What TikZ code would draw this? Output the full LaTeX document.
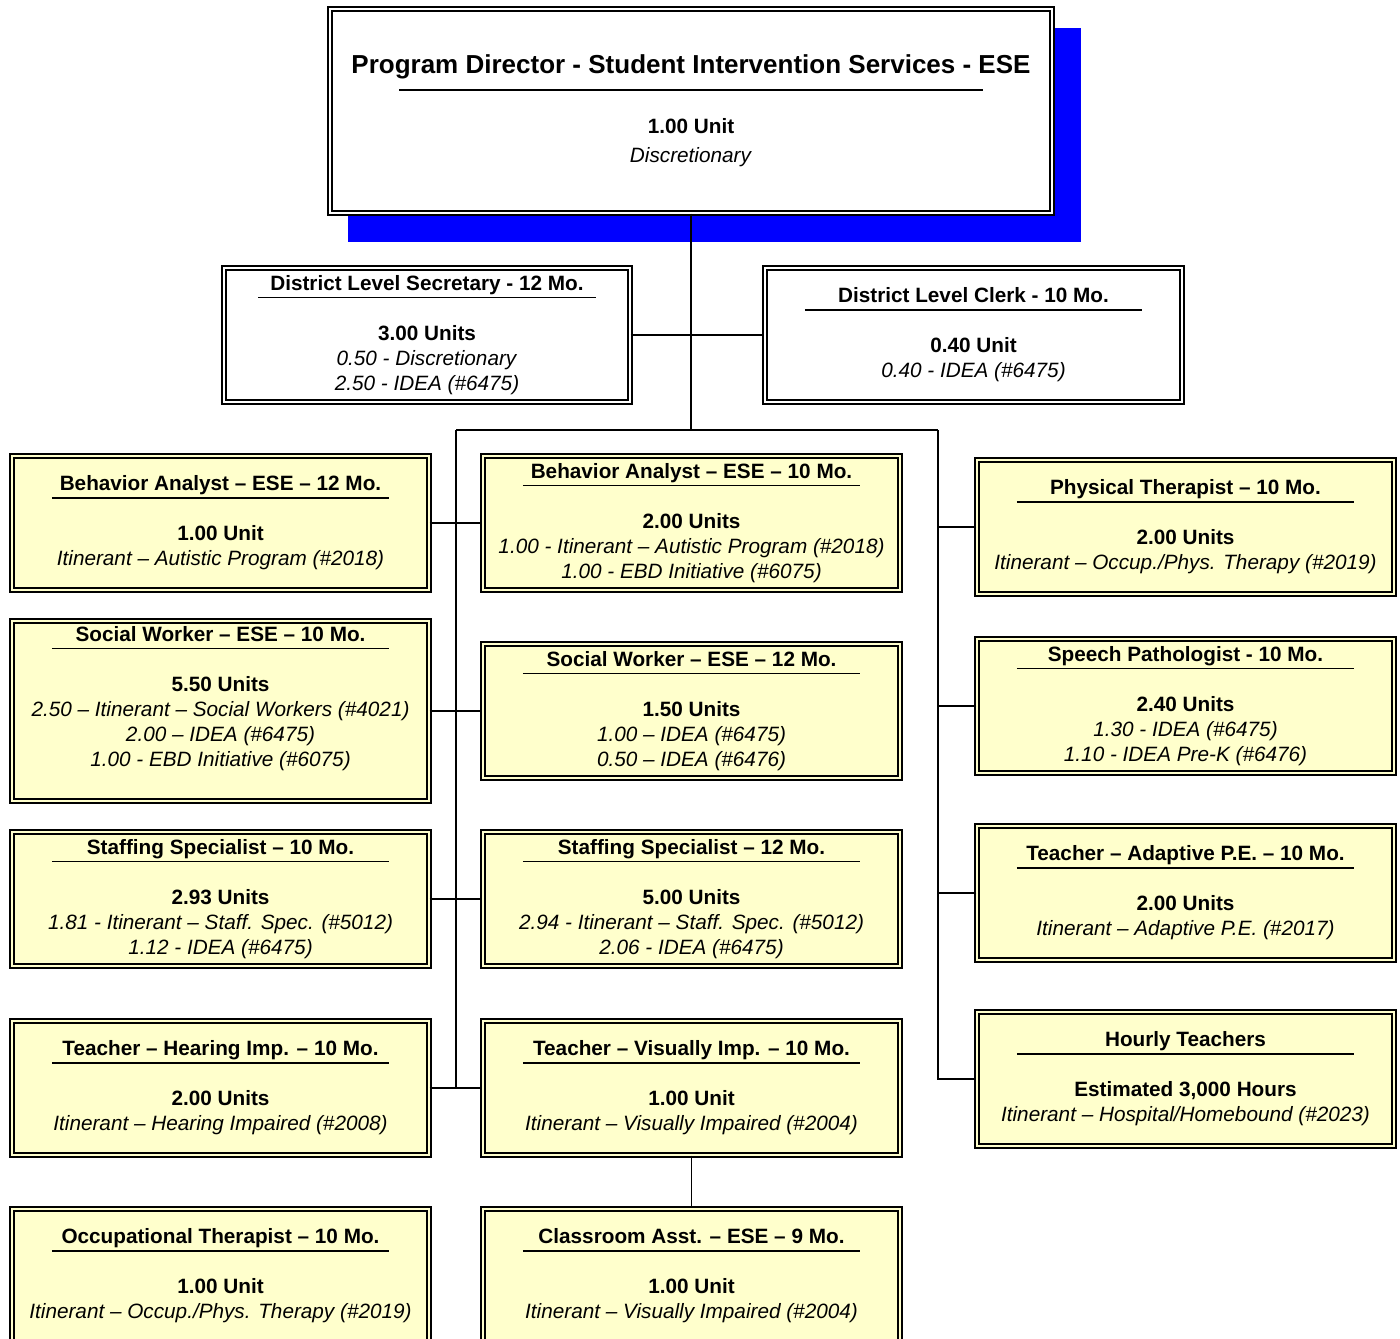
\documentclass[tikz,border=0pt]{standalone}
\usepackage{fontspec}
\setmainfont{Liberation Sans}
\usetikzlibrary{calc,backgrounds}
\definecolor{posfill}{RGB}{255,255,204}
\definecolor{shadowblue}{RGB}{0,0,255}
\newcommand{\body}{\fontsize{11.8}{14.2}\selectfont}
\newcommand{\hd}[1]{\textbf{#1}\\[-9.7pt]\rule{192pt}{1pt}\\[9.8pt]}
\tikzset{
  conn/.style={line width=0.9pt},
  txt/.style={inner sep=0pt,align=center,font=\body},
  posn/.style={draw=black,line width=0.85pt,double=posfill,double distance=1.4pt,
    fill=posfill,txt,minimum width=8.34cm,minimum height=2.68cm},
  wposn/.style={posn,double=white,fill=white},
}

\begin{document}
\begin{tikzpicture}[x=0.02cm,y=-0.02cm,conn]
\useasboundingbox (0,0) rectangle (1400,1339);
% top of the chart
\node[wposn,minimum width=14.44cm,minimum height=4.08cm] (dir) at (691,111)
  {{\fontsize{14.8}{17.8}\selectfont\textbf{Program Director - Student Intervention Services - ESE}}\\[-4.6pt]\rule{332pt}{1pt}\\[10.2pt]\textbf{1.00 Unit}\\[2.2pt]\textit{Discretionary}};
\begin{scope}[on background layer]
  \fill[shadowblue] ($(dir.south west)+(19,28)$) rectangle ($(dir.north east)+(28,20)$);
\end{scope}
\node[wposn,minimum width=8.12cm] (sec) at (427,335)
  {\hd{District Level Secretary - 12 Mo.}\textbf{3.00 Units}\\\textit{0.50 - Discretionary}\\\textit{2.50 - IDEA (\#6475)}};
\node[wposn] (clk) at (973.5,335)
  {\hd{District Level Clerk - 10 Mo.}\textbf{0.40 Unit}\\\textit{0.40 - IDEA (\#6475)}};
% left column
\node[posn] (ba12) at (220.5,523)
  {\hd{Behavior Analyst – ESE – 12 Mo.}\textbf{1.00 Unit}\\\textit{Itinerant – Autistic Program (\#2018)}};
\node[posn,minimum height=3.6cm] (sw10) at (220.5,711) {};
\node[txt] at ($(sw10)+(0,-12.5)$)
  {\hd{Social Worker – ESE – 10 Mo.}\textbf{5.50 Units}\\\textit{2.50 – Itinerant – Social Workers (\#4021)}\\\textit{2.00 – IDEA (\#6475)}\\\textit{1.00 - EBD Initiative (\#6075)}};
\node[posn] (ss10) at (220.5,899)
  {\hd{Staffing Specialist – 10 Mo.}\textbf{2.93 Units}\\\textit{1.81 - Itinerant – Staff. Spec. (\#5012)}\\\textit{1.12 - IDEA (\#6475)}};
\node[posn] (thi) at (220.5,1088)
  {\hd{Teacher – Hearing Imp. – 10 Mo.}\textbf{2.00 Units}\\\textit{Itinerant – Hearing Impaired (\#2008)}};
\node[posn] (ot) at (220.5,1276)
  {\hd{Occupational Therapist – 10 Mo.}\textbf{1.00 Unit}\\\textit{Itinerant – Occup./Phys. Therapy (\#2019)}};
% middle column
\node[posn] (ba10) at (691.5,523)
  {\hd{Behavior Analyst – ESE – 10 Mo.}\textbf{2.00 Units}\\\textit{1.00 - Itinerant – Autistic Program (\#2018)}\\\textit{1.00 - EBD Initiative (\#6075)}};
\node[posn] (sw12) at (691.5,711)
  {\hd{Social Worker – ESE – 12 Mo.}\textbf{1.50 Units}\\\textit{1.00 – IDEA (\#6475)}\\\textit{0.50 – IDEA (\#6476)}};
\node[posn] (ss12) at (691.5,899)
  {\hd{Staffing Specialist – 12 Mo.}\textbf{5.00 Units}\\\textit{2.94 - Itinerant – Staff. Spec. (\#5012)}\\\textit{2.06 - IDEA (\#6475)}};
\node[posn] (tvi) at (691.5,1088)
  {\hd{Teacher – Visually Imp. – 10 Mo.}\textbf{1.00 Unit}\\\textit{Itinerant – Visually Impaired (\#2004)}};
\node[posn] (ca) at (691.5,1276)
  {\hd{Classroom Asst. – ESE – 9 Mo.}\textbf{1.00 Unit}\\\textit{Itinerant – Visually Impaired (\#2004)}};
% right column
\node[posn] (pt) at (1185.5,527)
  {\hd{Physical Therapist – 10 Mo.}\textbf{2.00 Units}\\\textit{Itinerant – Occup./Phys. Therapy (\#2019)}};
\node[posn] (sp) at (1185.5,706)
  {\hd{Speech Pathologist - 10 Mo.}\textbf{2.40 Units}\\\textit{1.30 - IDEA (\#6475)}\\\textit{1.10 - IDEA Pre-K (\#6476)}};
\node[posn] (tape) at (1185.5,893)
  {\hd{Teacher – Adaptive P.E. – 10 Mo.}\textbf{2.00 Units}\\\textit{Itinerant – Adaptive P.E. (\#2017)}};
\node[posn] (ht) at (1185.5,1079)
  {\hd{Hourly Teachers}\textbf{Estimated 3,000 Hours}\\\textit{Itinerant – Hospital/Homebound (\#2023)}};
% connectors
\coordinate (hub) at (691,430);
\coordinate (lbus) at (456,430);
\coordinate (rbus) at (938,430);
\draw (dir) -- (hub);
\draw (sec) -- (clk);
\draw (lbus) -- (rbus);
\draw (lbus) -- (lbus |- thi);
\foreach \a/\b in {ba12/ba10,sw10/sw12,ss10/ss12,thi/tvi} \draw (\a) -- (\b);
\foreach \n in {pt,sp,tape} \draw (\n) -- (\n -| rbus);
\draw (rbus) |- (ht);
\draw (tvi) -- (ca);
\end{tikzpicture}
\end{document}
